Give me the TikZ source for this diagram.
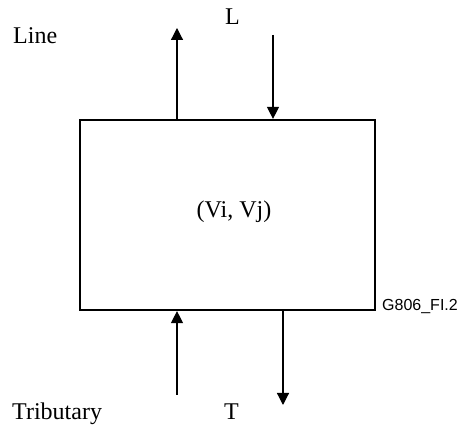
\documentclass[tikz,border=0pt]{standalone}
\usepackage{fontspec}
\setmainfont{Liberation Serif}
\setsansfont{Liberation Sans}
\usetikzlibrary{arrows.meta,positioning}

\begin{document}
\begin{tikzpicture}[
  x=1pt, y=-1pt,
  font=\fontsize{24}{28}\selectfont,
  fnbox/.style={draw, line width=2.2pt, minimum width=295pt, minimum height=190pt, inner sep=0pt},
  lbl/.style={inner sep=0pt, anchor=base west},
  arr/.style={-{Triangle[length=12pt,width=12pt]}, line width=1.2pt}
]
\useasboundingbox (0,0) rectangle (459,430);
\node[fnbox] (fn) at (227.5,215) {};
\node[lbl, anchor=base] (fnname) at (234,218) {(Vi, Vj)};
\node[lbl] (line) at (13,44) {Line};
\node[lbl] (lnam) at (225,25) {L};
\node[lbl] (trib) at (12,420) {Tributary};
\node[lbl] (tnam) at (224,420) {T};
\node[lbl, font=\sffamily\fontsize{16}{19}\selectfont] (fig) at (382,311) {G806\_FI.2};
% free ends of the connectors
\coordinate (lout) at (177,28);
\coordinate (lin) at (273,35);
\coordinate (tin) at (177,395);
\coordinate (tout) at (283,405);
\draw[arr] (fn.north -| lout) -- (lout);
\draw[arr] (lin) -- (fn.north -| lin);
\draw[arr] (tin) -- (fn.south -| tin);
\draw[arr] (fn.south -| tout) -- (tout);
\end{tikzpicture}
\end{document}
